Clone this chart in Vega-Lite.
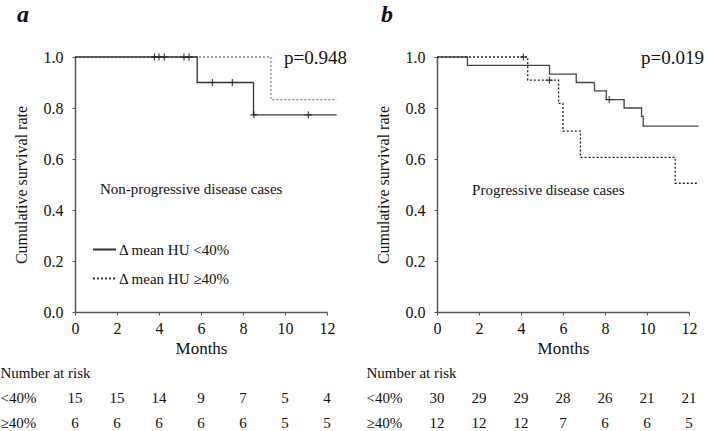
{
  "$schema": "https://vega.github.io/schema/vega-lite/v6.json",
  "padding": {"left": 0, "top": 2, "right": 0, "bottom": 0},
  "config": {
    "view": {"stroke": null},
    "font": "Liberation Serif",
    "style": {"guide-label": {"font": "Liberation Serif"}, "guide-title": {"font": "Liberation Serif", "fontWeight": "normal"}, "group-title": {"font": "Liberation Serif"}},
    "text": {"font": "Liberation Serif", "color": "#111"},
    "legend": {"labelFont": "Liberation Serif", "titleFont": "Liberation Serif"},
    "axis": {"grid": false, "labelFont": "Liberation Serif", "titleFont": "Liberation Serif", "labelColor": "#111", "titleColor": "#111", "titleFontWeight": "normal", "domainColor": "#555", "tickColor": "#555", "labelFlush": false, "labelOverlap": false}
  },
  "datasets": {
    "km_a": [
      {"group": "<40%", "t": 0, "s": 1},
      {"group": "<40%", "t": 5.82, "s": 0.9},
      {"group": "<40%", "t": 8.5, "s": 0.773},
      {"group": "<40%", "t": 12.46, "s": 0.773},
      {"group": "≥40%", "t": 0, "s": 1},
      {"group": "≥40%", "t": 9.33, "s": 0.833},
      {"group": "≥40%", "t": 12.46, "s": 0.833}
    ],
    "cens_a": [
      {"group": "<40%", "t": 3.78, "s": 1},
      {"group": "<40%", "t": 4.0, "s": 1},
      {"group": "<40%", "t": 4.25, "s": 1},
      {"group": "<40%", "t": 5.19, "s": 1},
      {"group": "<40%", "t": 5.43, "s": 1},
      {"group": "<40%", "t": 6.54, "s": 0.9},
      {"group": "<40%", "t": 7.49, "s": 0.9},
      {"group": "<40%", "t": 8.52, "s": 0.773},
      {"group": "<40%", "t": 11.11, "s": 0.773}
    ],
    "km_b": [
      {"group": "<40%", "t": 0, "s": 1},
      {"group": "<40%", "t": 1.45, "s": 0.967},
      {"group": "<40%", "t": 5.36, "s": 0.933},
      {"group": "<40%", "t": 6.63, "s": 0.9},
      {"group": "<40%", "t": 7.5, "s": 0.867},
      {"group": "<40%", "t": 8.06, "s": 0.833},
      {"group": "<40%", "t": 8.91, "s": 0.8},
      {"group": "<40%", "t": 9.74, "s": 0.767},
      {"group": "<40%", "t": 9.82, "s": 0.729},
      {"group": "<40%", "t": 12.45, "s": 0.729},
      {"group": "≥40%", "t": 0, "s": 1},
      {"group": "≥40%", "t": 4.32, "s": 0.909},
      {"group": "≥40%", "t": 5.79, "s": 0.818},
      {"group": "≥40%", "t": 6.0, "s": 0.709},
      {"group": "≥40%", "t": 6.83, "s": 0.606},
      {"group": "≥40%", "t": 11.34, "s": 0.505},
      {"group": "≥40%", "t": 12.42, "s": 0.505}
    ],
    "cens_b": [
      {"group": "<40%", "t": 8.2, "s": 0.833},
      {"group": "≥40%", "t": 4.11, "s": 1},
      {"group": "≥40%", "t": 5.35, "s": 0.909}
    ],
    "risk_a": [
      {"row": "<40%", "t": 0, "n": 15}, {"row": "<40%", "t": 2, "n": 15}, {"row": "<40%", "t": 4, "n": 14}, {"row": "<40%", "t": 6, "n": 9}, {"row": "<40%", "t": 8, "n": 7}, {"row": "<40%", "t": 10, "n": 5}, {"row": "<40%", "t": 12, "n": 4},
      {"row": "≥40%", "t": 0, "n": 6}, {"row": "≥40%", "t": 2, "n": 6}, {"row": "≥40%", "t": 4, "n": 6}, {"row": "≥40%", "t": 6, "n": 6}, {"row": "≥40%", "t": 8, "n": 6}, {"row": "≥40%", "t": 10, "n": 5}, {"row": "≥40%", "t": 12, "n": 5}
    ],
    "risk_b": [
      {"row": "<40%", "t": 0, "n": 30}, {"row": "<40%", "t": 2, "n": 29}, {"row": "<40%", "t": 4, "n": 29}, {"row": "<40%", "t": 6, "n": 28}, {"row": "<40%", "t": 8, "n": 26}, {"row": "<40%", "t": 10, "n": 21}, {"row": "<40%", "t": 12, "n": 21},
      {"row": "≥40%", "t": 0, "n": 12}, {"row": "≥40%", "t": 2, "n": 12}, {"row": "≥40%", "t": 4, "n": 12}, {"row": "≥40%", "t": 6, "n": 7}, {"row": "≥40%", "t": 8, "n": 6}, {"row": "≥40%", "t": 10, "n": 6}, {"row": "≥40%", "t": 12, "n": 5}
    ],
    "one": [{}]
  },
  "hconcat": [
    {
      "vconcat": [
        {
          "width": 252, "height": 255,
          "title": {"text": "a", "anchor": "start", "frame": "group", "dx": -58, "offset": 3, "baseline": "alphabetic", "font": "Liberation Serif", "fontSize": 24, "fontStyle": "italic", "fontWeight": "bold", "color": "#111"},
          "layer": [
            {
              "data": {"name": "km_a"},
              "transform": [{"filter": "datum.group == '≥40%'"}],
              "mark": {"type": "line", "interpolate": "step-after", "color": "#888", "strokeWidth": 1.3},
              "encoding": {
                "x": {"field": "t", "type": "quantitative", "scale": {"domain": [0, 12], "nice": false},
                  "axis": {"values": [0,1,2,3,4,5,6,7,8,9,10,11,12], "labelExpr": "datum.value % 2 == 0 ? datum.label : ''", "title": "Months", "tickSize": 3, "domainWidth": 1.5, "labelFont": "Liberation Serif", "titleFont": "Liberation Serif", "labelFontSize": 16, "labelPadding": 5, "titleFontSize": 17, "titlePadding": 4}},
                "y": {"field": "s", "type": "quantitative", "scale": {"domain": [0, 1], "nice": false},
                  "axis": {"values": [0,0.1,0.2,0.3,0.4,0.5,0.6,0.7,0.8,0.9,1], "labelExpr": "round(datum.value*10) % 2 == 0 ? format(datum.value, '.1f') : ''", "title": "Cumulative survival rate", "tickSize": 3, "domainWidth": 1.5, "labelFont": "Liberation Serif", "titleFont": "Liberation Serif", "labelFontSize": 16, "labelPadding": 9, "titleFontSize": 16, "titlePadding": 14}},
                "strokeDash": {"field": "group", "type": "nominal", "scale": {"domain": ["<40%", "≥40%"], "range": [[1, 0], [2, 2]]},
                  "legend": {"orient": "none", "legendX": 17, "legendY": 180, "title": null, "symbolType": "stroke", "symbolSize": 529, "symbolStrokeWidth": 2, "symbolStrokeColor": "#111", "labelOffset": 2, "rowPadding": 8, "labelFont": "Liberation Serif", "labelFontSize": 15, "labelColor": "#111", "labelLimit": 0, "labelExpr": "'Δ mean HU ' + datum.label"}}
              }
            },
            {
              "data": {"name": "km_a"},
              "transform": [{"filter": "datum.group == '<40%'"}],
              "mark": {"type": "line", "interpolate": "step-after", "color": "#333", "strokeWidth": 1.3},
              "encoding": {
                "x": {"field": "t", "type": "quantitative"},
                "y": {"field": "s", "type": "quantitative"},
                "strokeDash": {"field": "group", "type": "nominal"}
              }
            },
            {
              "data": {"name": "cens_a"},
              "mark": {"type": "point", "shape": "M -1 0 L 1 0 M 0 -1 L 0 1", "filled": false, "size": 50, "strokeWidth": 1, "color": "#222", "opacity": 1},
              "encoding": {
                "x": {"field": "t", "type": "quantitative"},
                "y": {"field": "s", "type": "quantitative"}
              }
            },
            {
              "data": {"name": "one"},
              "mark": {"type": "text", "text": "p=0.948", "align": "left", "baseline": "alphabetic", "font": "Liberation Serif", "fontSize": 19},
              "encoding": {"x": {"datum": 9.95, "type": "quantitative"}, "y": {"datum": 0.973, "type": "quantitative"}}
            },
            {
              "data": {"name": "one"},
              "mark": {"type": "text", "text": "Non-progressive disease cases", "align": "left", "baseline": "middle", "font": "Liberation Serif", "fontSize": 15},
              "encoding": {"x": {"datum": 1.19, "type": "quantitative"}, "y": {"datum": 0.482, "type": "quantitative"}}
            }
          ]
        },
        {
          "width": 252, "height": 75,
          "data": {"name": "risk_a"},
          "mark": {"type": "text", "font": "Liberation Serif", "fontSize": 15, "baseline": "middle"},
          "encoding": {
            "x": {"field": "t", "type": "quantitative", "scale": {"domain": [0, 12], "nice": false}, "axis": null},
            "y": {"field": "row", "type": "nominal", "scale": {"domain": ["Number at risk", "<40%", "≥40%"]},
              "axis": {"title": null, "domain": false, "ticks": false, "tickSize": 0, "labelAlign": "left", "labelPadding": 75, "labelFont": "Liberation Serif", "labelFontSize": 15, "labelLimit": 0, "labelBaseline": "middle"}},
            "text": {"field": "n", "type": "quantitative"}
          }
        }
      ],
      "spacing": 48,
      "bounds": "flush"
    },
    {
      "vconcat": [
        {
          "width": 252, "height": 255,
          "title": {"text": "b", "anchor": "start", "frame": "group", "dx": -56, "offset": 3, "baseline": "alphabetic", "font": "Liberation Serif", "fontSize": 24, "fontStyle": "italic", "fontWeight": "bold", "color": "#111"},
          "layer": [
            {
              "data": {"name": "km_b"},
              "transform": [{"filter": "datum.group == '≥40%'"}],
              "mark": {"type": "line", "interpolate": "step-after", "color": "#222", "strokeWidth": 1.3},
              "encoding": {
                "x": {"field": "t", "type": "quantitative", "scale": {"domain": [0, 12], "nice": false},
                  "axis": {"values": [0,2,4,6,8,10,12], "title": "Months", "tickSize": 3, "domainWidth": 1.5, "labelFont": "Liberation Serif", "titleFont": "Liberation Serif", "labelFontSize": 16, "labelPadding": 5, "titleFontSize": 17, "titlePadding": 4}},
                "y": {"field": "s", "type": "quantitative", "scale": {"domain": [0, 1], "nice": false},
                  "axis": {"values": [0,0.1,0.2,0.3,0.4,0.5,0.6,0.7,0.8,0.9,1], "labelExpr": "round(datum.value*10) % 2 == 0 ? format(datum.value, '.1f') : ''", "title": "Cumulative survival rate", "tickSize": 3, "domainWidth": 1.5, "labelFont": "Liberation Serif", "titleFont": "Liberation Serif", "labelFontSize": 16, "labelPadding": 9, "titleFontSize": 16, "titlePadding": 14}},
                "strokeDash": {"field": "group", "type": "nominal", "scale": {"domain": ["<40%", "≥40%"], "range": [[1, 0], [2, 2]]},
                  "legend": {"orient": "none", "legendX": 17, "legendY": 181, "title": null, "symbolType": "stroke", "symbolSize": 529, "symbolStrokeWidth": 2, "symbolStrokeColor": "#111", "labelOffset": 2, "rowPadding": 8, "labelFont": "Liberation Serif", "labelFontSize": 15, "labelColor": "#111", "labelLimit": 0, "labelExpr": "'Δ mean HU ' + datum.label"}}
              }
            },
            {
              "data": {"name": "km_b"},
              "transform": [{"filter": "datum.group == '<40%'"}],
              "mark": {"type": "line", "interpolate": "step-after", "color": "#444", "strokeWidth": 1.3},
              "encoding": {
                "x": {"field": "t", "type": "quantitative"},
                "y": {"field": "s", "type": "quantitative"},
                "strokeDash": {"field": "group", "type": "nominal"}
              }
            },
            {
              "data": {"name": "cens_b"},
              "mark": {"type": "point", "shape": "M -1 0 L 1 0 M 0 -1 L 0 1", "filled": false, "size": 50, "strokeWidth": 1, "color": "#222", "opacity": 1},
              "encoding": {
                "x": {"field": "t", "type": "quantitative"},
                "y": {"field": "s", "type": "quantitative"}
              }
            },
            {
              "data": {"name": "one"},
              "mark": {"type": "text", "text": "p=0.019", "align": "left", "baseline": "alphabetic", "font": "Liberation Serif", "fontSize": 19},
              "encoding": {"x": {"datum": 9.71, "type": "quantitative"}, "y": {"datum": 0.973, "type": "quantitative"}}
            },
            {
              "data": {"name": "one"},
              "mark": {"type": "text", "text": "Progressive disease cases", "align": "left", "baseline": "middle", "font": "Liberation Serif", "fontSize": 15},
              "encoding": {"x": {"datum": 1.67, "type": "quantitative"}, "y": {"datum": 0.478, "type": "quantitative"}}
            }
          ]
        },
        {
          "width": 252, "height": 75,
          "data": {"name": "risk_b"},
          "mark": {"type": "text", "font": "Liberation Serif", "fontSize": 15, "baseline": "middle"},
          "encoding": {
            "x": {"field": "t", "type": "quantitative", "scale": {"domain": [0, 12], "nice": false}, "axis": null},
            "y": {"field": "row", "type": "nominal", "scale": {"domain": ["Number at risk", "<40%", "≥40%"]},
              "axis": {"title": null, "domain": false, "ticks": false, "tickSize": 0, "labelAlign": "left", "labelPadding": 71, "labelFont": "Liberation Serif", "labelFontSize": 15, "labelLimit": 0, "labelBaseline": "middle"}},
            "text": {"field": "n", "type": "quantitative"}
          }
        }
      ],
      "spacing": 48,
      "bounds": "flush"
    }
  ],
  "spacing": 19
}
